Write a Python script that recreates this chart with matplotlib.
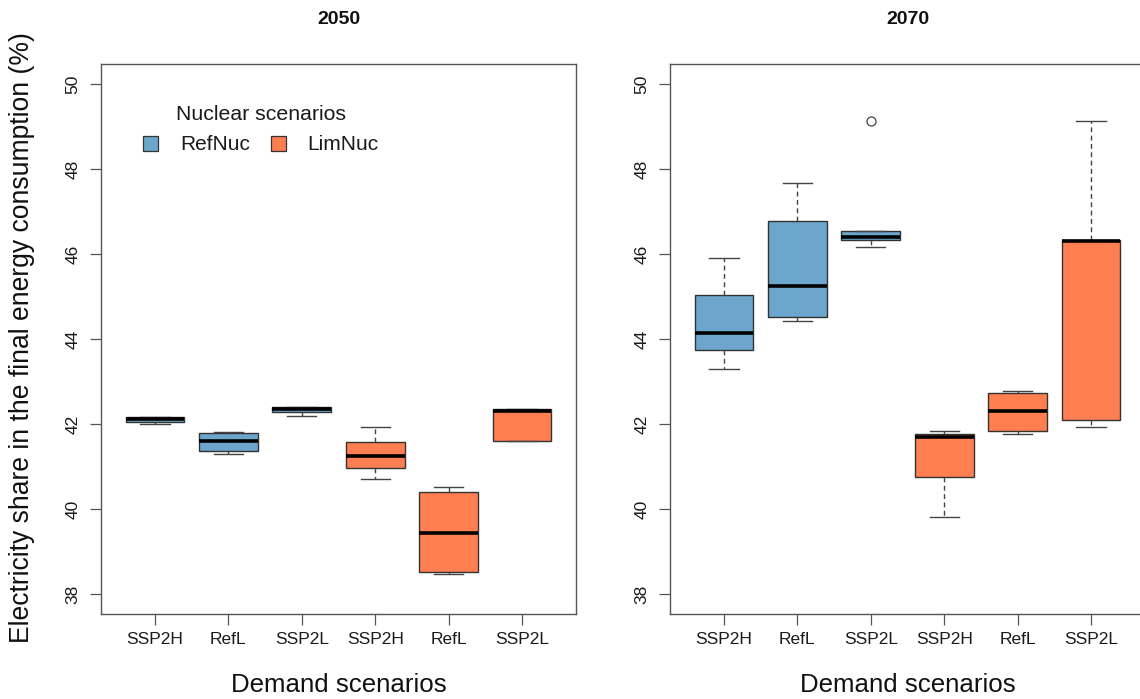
import matplotlib
matplotlib.use("Agg")
import matplotlib.pyplot as plt
from matplotlib.patches import Patch

plt.rcParams['font.family'] = ['Liberation Sans', 'DejaVu Sans']

# ---------------- data ----------------
years = ["2050", "2070"]
nuclear = ["RefNuc", "LimNuc"]
demand_labels = ["SSP2H", "RefL", "SSP2L", "SSP2H", "RefL", "SSP2L"]
box_nuclear = ["RefNuc", "RefNuc", "RefNuc", "LimNuc", "LimNuc", "LimNuc"]

# 2050 (boxes: RefNuc SSP2H, RefL, SSP2L, LimNuc SSP2H, RefL, SSP2L)
whislo_2050 = [42.01, 41.29, 42.20, 40.71, 38.48, 41.61]
q1_2050     = [42.05, 41.36, 42.28, 40.96, 38.51, 41.61]
med_2050    = [42.12, 41.60, 42.35, 41.24, 39.43, 42.31]
q3_2050     = [42.17, 41.80, 42.41, 41.58, 40.41, 42.35]
whishi_2050 = [42.17, 41.81, 42.41, 41.92, 40.51, 42.36]
fliers_2050 = [[], [], [], [], [], []]

# 2070
whislo_2070 = [43.29, 44.42, 46.16, 39.81, 41.76, 41.92]
q1_2070     = [43.73, 44.51, 46.32, 40.75, 41.83, 42.09]
med_2070    = [44.15, 45.25, 46.41, 41.69, 42.30, 46.30]
q3_2070     = [45.04, 46.78, 46.53, 41.76, 42.73, 46.33]
whishi_2070 = [45.91, 47.66, 46.53, 41.84, 42.78, 49.12]
fliers_2070 = [[], [], [49.12], [], [], []]

y_ticks = [38, 40, 42, 44, 46, 48, 50]
y_limits = (38, 50)

colors = {"RefNuc": "#6CA6CD", "LimNuc": "#FF7F50"}

data = {
    "2050": (whislo_2050, q1_2050, med_2050, q3_2050, whishi_2050, fliers_2050),
    "2070": (whislo_2070, q1_2070, med_2070, q3_2070, whishi_2070, fliers_2070),
}

# ---------------- figure ----------------
W, H = 1140, 699
fig = plt.figure(figsize=(W / 100, H / 100), dpi=100)

ax_w = 475.8 / W
ax_h = (614.4 - 63.6) / H
ax_b = (H - 614.4) / H
lefts = [100.6 / W, 669.6 / W]

frame_col = "#555555"
ext = 0.04 * (y_limits[1] - y_limits[0])

for i, yr in enumerate(years):
    ax = fig.add_axes([lefts[i], ax_b, ax_w, ax_h])
    lo, q1, med, q3, hi, fl = data[yr]
    stats = []
    for k in range(len(demand_labels)):
        stats.append(dict(whislo=lo[k], q1=q1[k], med=med[k], q3=q3[k],
                          whishi=hi[k], fliers=fl[k]))
    positions = list(range(1, len(stats) + 1))
    res = ax.bxp(stats, positions=positions, widths=0.8, capwidths=0.4,
                 patch_artist=True, showfliers=True,
                 boxprops=dict(edgecolor="#333333", linewidth=1.0),
                 medianprops=dict(color="black", linewidth=2.6, solid_capstyle="butt"),
                 whiskerprops=dict(color="#444444", linewidth=1.0, linestyle=(0, (3.5, 2.5))),
                 capprops=dict(color="#444444", linewidth=1.0),
                 flierprops=dict(marker="o", markerfacecolor="none",
                                 markeredgecolor="#444444", markersize=6.5,
                                 markeredgewidth=0.9))
    for patch, nuc in zip(res["boxes"], box_nuclear):
        patch.set_facecolor(colors[nuc])

    ax.set_xlim(0.5 - 0.24, len(stats) + 0.5 + 0.24)
    ax.set_ylim(y_limits[0] - ext, y_limits[1] + ext)
    ax.set_xticks(positions)
    ax.set_xticklabels(demand_labels)
    ax.set_yticks(y_ticks)
    ax.set_yticklabels([str(t) for t in y_ticks])
    for lab in ax.get_yticklabels():
        lab.set_rotation(90)
        lab.set_va("center")
    ax.tick_params(axis="both", length=7.6, width=0.9, color=frame_col,
                   labelsize=12.5, labelcolor="#1a1a1a")
    ax.tick_params(axis="x", pad=5)
    ax.tick_params(axis="y", pad=7)
    for sp in ax.spines.values():
        sp.set_color(frame_col)
        sp.set_linewidth(1.0)

    cx = lefts[i] + ax_w / 2
    fig.text(cx, 1 - 20 / H, yr, ha="center", va="center",
             fontsize=14, fontweight="bold", color="#111111")
    fig.text(cx, 1 - 685 / H, "Demand scenarios", ha="center", va="center",
             fontsize=18.6, color="#111111")

    if i == 0:
        handles = [Patch(facecolor=colors[n], edgecolor="#333333", linewidth=0.9)
                   for n in nuclear]
        leg = ax.legend(handles, nuclear, title="Nuclear scenarios", ncol=2,
                        loc="upper left", bbox_to_anchor=(0.089, 0.925),
                        frameon=False, fontsize=15, title_fontsize=15.3,
                        handlelength=0.72, handleheight=0.72,
                        handletextpad=1.05, columnspacing=1.0,
                        labelspacing=0.55, borderpad=0, borderaxespad=0)
        for t in leg.get_texts():
            t.set_color("#1a1a1a")
        leg.get_title().set_color("#1a1a1a")

fig.text(22 / W, 1 - 338 / H,
         "Electricity share in the final energy consumption (%)",
         rotation=90, ha="center", va="center", fontsize=19.1, color="#111111")

fig.savefig("out.png", dpi=100)
